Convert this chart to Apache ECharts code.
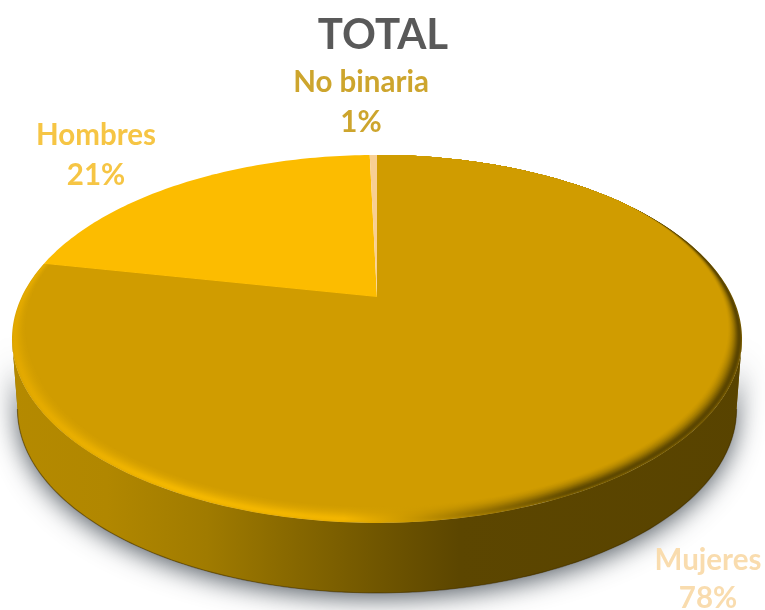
<!DOCTYPE html>
<html>
<head>
<meta charset="utf-8">
<style>html,body{margin:0;padding:0;background:#fff}#c{width:765px;height:610px}</style>
<script src="https://cdn.jsdelivr.net/npm/echarts@6/dist/echarts.min.js"></script>
</head>
<body>
<div id="c"></div>
<script>
const titleText = 'TOTAL';
const categories = ['Mujeres', 'Hombres', 'No binaria'];
const shares = [78.2, 21.4, 0.4];
const shareLabels = ['78%', '21%', '1%'];
const sliceColors = ['#D09C00', '#FCBC00', '#F8CF93'];
const labelColors = ['#F9DCAE', '#F6C544', '#CDA52D'];
const labelCenters = [[708, 560, 598], [96, 135, 175], [361, 82, 122]];

// Perspective model of the tilted disc
const cx = 377, apexY = 297, k = 0.228, R = 355.4, H = 174.4, depth = 70, wallScale = 0.985;
const wallStops = [[0, '#B58A00'], [0.14, '#B18700'], [0.27, '#A07B00'], [0.37, '#8A6A00'], [0.5, '#6F5500'], [0.6, '#5C4600'], [1, '#584300']];
const rimStops = [[0, '#E0A700'], [0.22, '#F4B800'], [0.45, '#F2B500'], [0.54, '#C89600'], [0.62, '#9A7400'], [0.75, '#604A00'], [1, '#584300']];
const rimProfile = [0.75, 0.9, 1, 1, 0.95, 0.85, 0.74, 0.63, 0.52, 0.42, 0.33, 0.25, 0.18, 0.12, 0.07, 0.03];
const rimSideInset = 17, rimBottomInset = 16, rimFadeTop = 0.6, rimFadeSpan = 1.0;

function project(frac, q) {
  const t = 2 * Math.PI * frac, u = Math.sin(t), v = Math.cos(t), d = 1 + k * v;
  const g = Math.max(0, Math.min(1, (rimFadeTop - v) / rimFadeSpan)) * q;
  return [cx + (R * u / d) * (1 - g * rimSideInset / 365),
          apexY - (H * v / d) * (1 - g * rimBottomInset / 226)];
}
function arc(f0, f1, q) {
  const n = Math.max(2, Math.ceil(Math.abs(f1 - f0) * 360)), out = [];
  for (let i = 0; i <= n; i++) out.push(project(f0 + (f1 - f0) * i / n, q));
  return out;
}
function hex(c) { return [1, 3, 5].map(i => parseInt(c.substr(i, 2), 16)); }
function mix(a, b, w) {
  const A = hex(a), B = hex(b);
  return 'rgb(' + A.map((v, i) => Math.round(v * w + B[i] * (1 - w))).join(',') + ')';
}
function grad(stops) {
  return new echarts.graphic.LinearGradient(0, 0, 765, 0, stops.map(s => ({ offset: s[0], color: s[1] })), true);
}
const total = shares.reduce((a, b) => a + b, 0);
const starts = shares.map((_, i) => shares.slice(0, i).reduce((a, b) => a + b, 0) / total);
const ends = shares.map((_, i) => starts[i] + shares[i] / total);
const edgeFrac = Math.acos(-k) / (2 * Math.PI);

function renderItem(params) {
  const i = params.dataIndex, kids = [];
  const f0 = starts[i], f1 = ends[i];
  if (i === 0) {
    const top = arc(edgeFrac, 1 - edgeFrac, 0);
    const bottom = arc(edgeFrac, 1 - edgeFrac, 0).map(p => [cx + (p[0] - cx) * wallScale, p[1] + depth]);
    const wall = top.concat(bottom.slice().reverse());
    kids.push({ type: 'polygon', shape: { points: wall },
      style: { fill: '#8A6A00', shadowBlur: 26, shadowColor: 'rgba(40,50,60,0.8)', shadowOffsetY: 5 } });
    kids.push({ type: 'polygon', shape: { points: wall }, style: { fill: grad(wallStops) } });
    kids.push({ type: 'polyline', shape: { points: bottom },
      style: { fill: 'none', stroke: 'rgba(50,35,0,0.45)', lineWidth: 1.2 } });
    rimProfile.forEach((w, j) => {
      const stops = rimStops.map(s => [s[0], mix(s[1], sliceColors[0], w)]);
      kids.push({ type: 'polygon', shape: { points: [[cx, apexY]].concat(arc(f0, f1, j / rimProfile.length)) }, style: { fill: grad(stops) } });
    });
  }
  kids.push({ type: 'polygon',
    shape: { points: [[cx, apexY]].concat(arc(f0, f1, i === 0 ? 1 : 0)) },
    style: { fill: sliceColors[i] } });
  const lc = labelCenters[i];
  kids.push({ type: 'text', z2: 10, style: { x: lc[0], y: lc[1], text: categories[i], fill: labelColors[i],
    font: 'bold 29.5px Lato', textAlign: 'center', textVerticalAlign: 'middle' } });
  kids.push({ type: 'text', z2: 10, style: { x: lc[0], y: lc[2], text: shareLabels[i], fill: labelColors[i],
    font: 'bold 29.5px Lato', textAlign: 'center', textVerticalAlign: 'middle' } });
  return { type: 'group', children: kids };
}

const chart = echarts.init(document.getElementById('c'), null, { renderer: 'canvas' });
chart.setOption({
  animation: false,
  backgroundColor: '#fff',
  title: { text: titleText, left: 378, top: 9, textAlign: 'center',
    textStyle: { color: '#595959', fontFamily: 'Lato', fontWeight: 'bold', fontSize: 42 } },
  series: [{ type: 'custom', coordinateSystem: 'none', silent: true, renderItem,
    data: shares.map((v, i) => ({ name: categories[i], value: v })) }]
});
</script>
</body>
</html>
